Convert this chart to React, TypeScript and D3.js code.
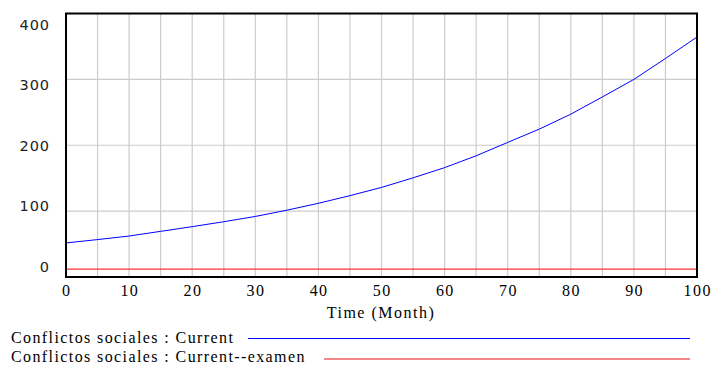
import React from "react";
import * as d3 from "d3";

const timeMonths = [0, 5, 10, 15, 20, 25, 30, 35, 40, 45, 50, 55, 60, 65, 70, 75, 80, 85, 90, 95, 100];
const currentValues = [51.7, 56.8, 62.2, 69.3, 76.4, 83.9, 91.9, 101.4, 111.9, 123.5, 136, 150.5, 166, 184, 204.3, 224.5, 247.2, 273.3, 300, 331.7, 364.3];
const examenValues = [12, 12, 12, 12, 12, 12, 12, 12, 12, 12, 12, 12, 12, 12, 12, 12, 12, 12, 12, 12, 12];
const xTickLabels = [0, 10, 20, 30, 40, 50, 60, 70, 80, 90, 100];
const yTickLabels = [0, 100, 200, 300, 400];
const xGridValues = [5, 10, 15, 20, 25, 30, 35, 40, 45, 50, 55, 60, 65, 70, 75, 80, 85, 90, 95];
const yGridValues = [100, 200, 300];
const seriesNames = ["Conflictos sociales : Current", "Conflictos sociales : Current--examen"];
const xAxisTitle = "Time (Month)";

const serif = "Liberation Serif, Tinos, DejaVu Serif, Times New Roman, serif";
const sans = "DejaVu Sans, Verdana, sans-serif";

export default function App() {
  const W = 713, H = 367;
  const left = 66, right = 697, top = 13.5, bottom = 277;
  const x = d3.scaleLinear().domain([0, 100]).range([left, right]);
  const y = d3.scaleLinear().domain([0, 400]).range([bottom, top]);
  // Vensim-style label placement: labels squeezed inside the frame
  const yLab = d3.scaleLinear().domain([0, 400]).range([266.3, 24.3]);

  const line = d3.line<number>().x((_, i) => x(timeMonths[i])).y((d) => y(d));
  const blue = "#0000ff";
  const red = "#ff0000";
  const grid = "#cccccc";

  return (
    <svg width={W} height={H} style={{ position: "absolute", left: 0, top: 0, background: "#fff" }}>
      <rect x={0} y={0} width={W} height={H} fill="#fff" />
      {xGridValues.map((v) => (
        <line key={"gx" + v} x1={x(v)} x2={x(v)} y1={top} y2={bottom} stroke={grid} strokeWidth={1.2} />
      ))}
      {yGridValues.map((v) => (
        <line key={"gy" + v} x1={left} x2={right} y1={y(v)} y2={y(v)} stroke={grid} strokeWidth={1.2} />
      ))}
      <path d={line(examenValues) || ""} fill="none" stroke={red} strokeWidth={1} />
      <path d={line(currentValues) || ""} fill="none" stroke={blue} strokeWidth={1} />
      <rect x={left} y={top} width={right - left} height={bottom - top} fill="none" stroke="#000" strokeWidth={2} />
      {yTickLabels.map((v) => (
        <text key={"yl" + v} x={50} y={yLab(v)} dy="0.36em" textAnchor="end"
          fontFamily={sans} fontSize={14.5} letterSpacing={0.9} fill="#222">
          {v}
        </text>
      ))}
      {xTickLabels.map((v) => (
        <text key={"xl" + v} x={x(v) + 0.7} y={291} dy="0.34em" textAnchor="middle"
          fontFamily={serif} fontSize={16} letterSpacing={1.4} fill="#000">
          {v}
        </text>
      ))}
      <text x={381} y={312.5} dy="0.34em" textAnchor="middle"
        fontFamily={serif} fontSize={16} letterSpacing={1.5} fill="#000">
        {xAxisTitle}
      </text>
      <text x={11} y={338} dy="0.34em" fontFamily={serif} fontSize={16} letterSpacing={1.4} fill="#000">
        {seriesNames[0]}
      </text>
      <line x1={248} x2={690} y1={338.5} y2={338.5} stroke={blue} strokeWidth={1} />
      <text x={11} y={357} dy="0.34em" fontFamily={serif} fontSize={16} letterSpacing={1.4} fill="#000">
        {seriesNames[1]}
      </text>
      <line x1={324} x2={690} y1={359} y2={359} stroke="#f06060" strokeWidth={1.5} />
    </svg>
  );
}
